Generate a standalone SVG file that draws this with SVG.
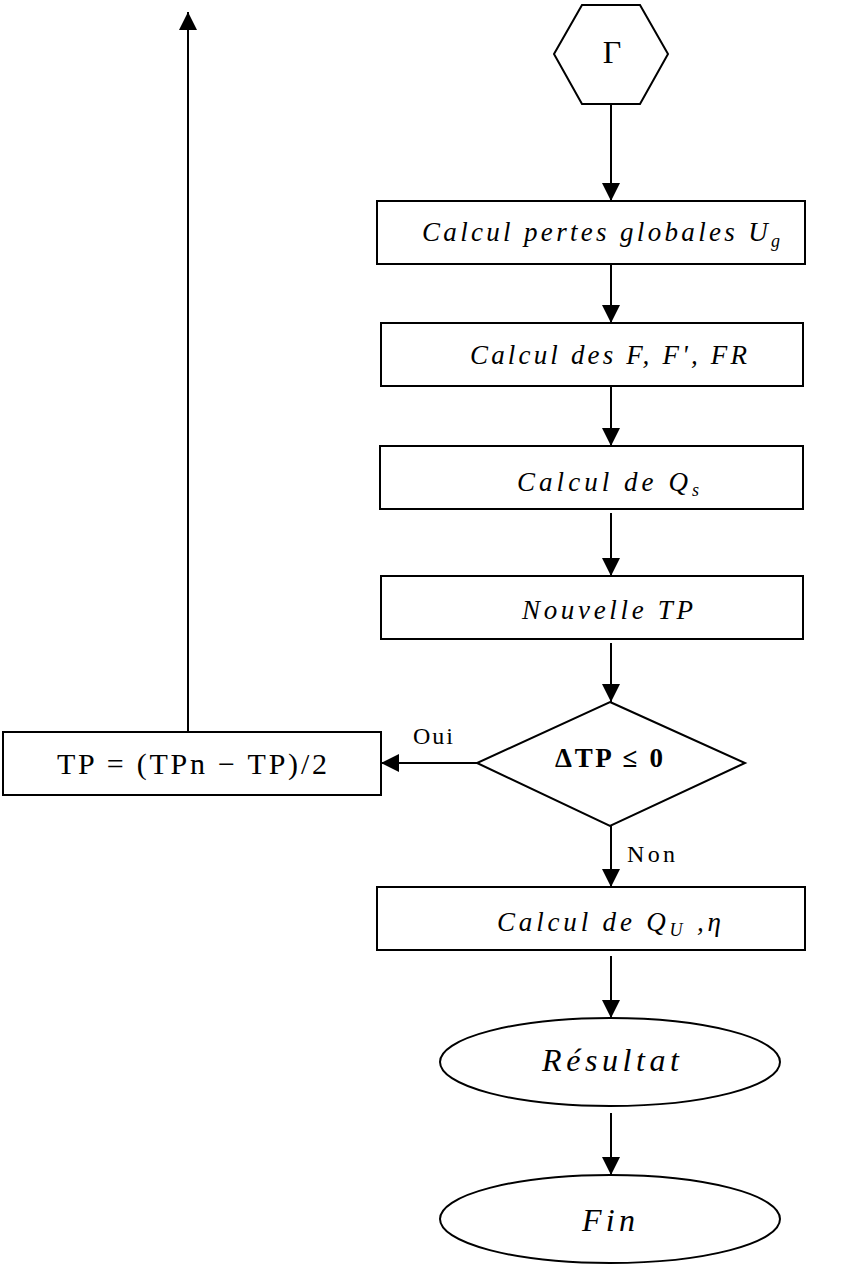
<svg xmlns="http://www.w3.org/2000/svg" width="842" height="1266" viewBox="0 0 842 1266">
<style>
.shape{fill:#fff;stroke:#000;stroke-width:2}
.line{fill:none;stroke:#000;stroke-width:2}
.it{font-family:"Liberation Serif",serif;font-style:italic;font-size:27px;fill:#000}
.big{font-size:32px}
.rm{font-family:"Liberation Serif",serif;font-size:30px;fill:#000}
.lbl{font-family:"Liberation Serif",serif;font-size:24px;fill:#000}
.sub{font-size:18px}
</style>
<defs>
<marker id="ah" markerWidth="20" markerHeight="20" refX="18" refY="9" orient="auto" markerUnits="userSpaceOnUse">
<path d="M0,0 L18,9 L0,18 Z" fill="#000"/>
</marker>
</defs>
<g id="connectors">
<line class="line" x1="611" y1="104" x2="611" y2="201" marker-end="url(#ah)"/>
<line class="line" x1="611" y1="264" x2="611" y2="323" marker-end="url(#ah)"/>
<line class="line" x1="611" y1="386" x2="611" y2="446" marker-end="url(#ah)"/>
<line class="line" x1="611" y1="513" x2="611" y2="576" marker-end="url(#ah)"/>
<line class="line" x1="611" y1="643" x2="611" y2="702" marker-end="url(#ah)"/>
<line class="line" x1="477" y1="763" x2="381" y2="763" marker-end="url(#ah)"/>
<line class="line" x1="611" y1="826" x2="611" y2="887" marker-end="url(#ah)"/>
<line class="line" x1="611" y1="956" x2="611" y2="1018" marker-end="url(#ah)"/>
<line class="line" x1="611" y1="1113" x2="611" y2="1175" marker-end="url(#ah)"/>
<line class="line" x1="188" y1="732" x2="188" y2="12" marker-end="url(#ah)"/>
<text class="lbl" x="413" y="744" textLength="40">Oui</text>
<text class="lbl" x="627" y="862" textLength="48">Non</text>
</g>
<g id="start">
<polygon class="shape" points="582,5 640,5 668,54 640,104 582,104 554,54"/>
<text class="rm" x="612" y="63" text-anchor="middle" style="font-size:32px">Γ</text>
</g>
<g id="ug">
<rect class="shape" x="377" y="201" width="428" height="63"/>
<text class="it" x="422" y="241" textLength="358">Calcul pertes globales  U<tspan class="sub" dy="6">g</tspan></text>
</g>
<g id="ff">
<rect class="shape" x="381" y="323" width="422" height="63"/>
<text class="it" x="470" y="364" textLength="277">Calcul des  F, F', FR</text>
</g>
<g id="qs">
<rect class="shape" x="380" y="446" width="423" height="63"/>
<text class="it" x="517" y="491" textLength="182">Calcul de  Q<tspan class="sub" dy="5">s</tspan></text>
</g>
<g id="tp">
<rect class="shape" x="381" y="576" width="422" height="63"/>
<text class="it" x="522" y="619" textLength="171">Nouvelle TP</text>
</g>
<g id="test">
<polygon class="shape" points="610,702 745,763 610,826 477,763"/>
<text x="609" y="767" text-anchor="middle" font-family="Liberation Serif, serif" font-weight="bold" font-size="27" textLength="108">ΔTP ≤ 0</text>
</g>
<g id="update">
<rect class="shape" x="3" y="732" width="378" height="63"/>
<text class="rm" x="57" y="774" textLength="270">TP = (TPn − TP)/2</text>
</g>
<g id="qu">
<rect class="shape" x="377" y="887" width="428" height="63"/>
<text class="it" x="497" y="931" textLength="224">Calcul de  Q<tspan class="sub" dy="5">U</tspan><tspan dy="-5"> ,η</tspan></text>
</g>
<g id="result">
<ellipse class="shape" cx="610" cy="1062" rx="170" ry="44"/>
<text class="it big" x="542" y="1071" textLength="137">Résultat</text>
</g>
<g id="end">
<ellipse class="shape" cx="610" cy="1219" rx="170" ry="44"/>
<text class="it big" x="582" y="1231" textLength="53">Fin</text>
</g>
</svg>
